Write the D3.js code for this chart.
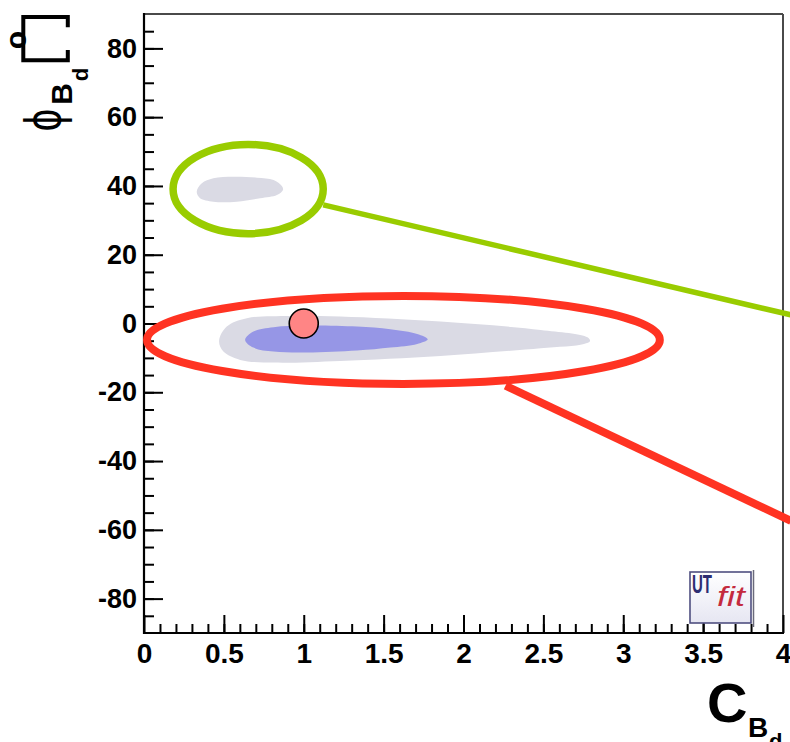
<!DOCTYPE html>
<html>
<head>
<meta charset="utf-8">
<script src="https://cdn.jsdelivr.net/npm/d3@7"></script>
<style>
  html, body { margin: 0; padding: 0; background: #ffffff; }
  svg { display: block; }
  text { font-family: "Liberation Sans", Arial, Helvetica, sans-serif; }
</style>
</head>
<body>
<svg id="chart" width="790" height="742"></svg>
<script>
// ---- data -------------------------------------------------------------
// axis ticks
const xTickValues = [0, 0.5, 1, 1.5, 2, 2.5, 3, 3.5, 4];
const xTickLabels = ["0", "0.5", "1", "1.5", "2", "2.5", "3", "3.5", "4"];
const yTickValues = [-80, -60, -40, -20, 0, 20, 40, 60, 80];
const yTickLabels = ["-80", "-60", "-40", "-20", "0", "20", "40", "60", "80"];

// 95% probability region, main solution (C, phi in degrees)
const region95Main = [
  [0.470, -5.06], [0.518, -0.90], [0.644, 1.54], [0.915, 2.21], [1.229, 2.01],
  [1.856, 0.55], [2.483, -1.86], [2.776, -3.98], [2.792, -5.06], [2.754, -5.93],
  [2.483, -7.18], [1.856, -9.42], [1.229, -10.87], [0.811, -11.37], [0.602, -10.58],
  [0.497, -8.17]
];
// 95% probability region, secondary solution
const region95Second = [
  [0.330, 38.34], [0.362, 40.78], [0.434, 42.24], [0.560, 42.70], [0.707, 42.41],
  [0.811, 41.74], [0.863, 40.00], [0.870, 38.84], [0.832, 37.38], [0.727, 36.42],
  [0.581, 35.44], [0.434, 35.44], [0.351, 36.42]
];
// 68% probability region
const region68 = [
  [0.633, -4.77], [0.685, -2.35], [0.811, -1.08], [1.020, -0.61], [1.334, -0.90],
  [1.542, -1.66], [1.710, -3.02], [1.776, -4.56], [1.710, -5.93], [1.542, -7.01],
  [1.334, -7.88], [1.020, -8.46], [0.811, -8.17], [0.685, -7.01]
];
// Standard Model point
const smPoint = [1, 0];

// highlight ellipses: [centerC, centerPhi, radiusC, radiusPhi]
const highlightGreen = [0.652, 39.1, 0.470, 12.97];
const highlightRed = [1.624, -4.77, 1.605, 12.8];
// pointer lines: [[C0, phi0], [C1, phi1]]
const pointerGreen = [[1.122, 34.5], [4.05, 2.5]];
const pointerRed = [[2.263, -18.1], [4.05, -57.4]];

// ---- layout ----------------------------------------------------------
const svg = d3.select("#chart");
const x = d3.scaleLinear().domain([0, 4]).range([144, 783]);
const y = d3.scaleLinear().domain([-90, 90]).range([633, 14]);

const line = d3.line()
  .x(d => x(d[0])).y(d => y(d[1]))
  .curve(d3.curveCatmullRomClosed.alpha(0.5));

// ---- probability regions -----------------------------------------------
svg.append("path").attr("d", line(region95Main)).attr("fill", "#dadae4");
svg.append("path").attr("d", line(region95Second)).attr("fill", "#dadae4");
svg.append("path").attr("d", line(region68)).attr("fill", "#9696e6");

// ---- frame --------------------------------------------------------------
svg.append("line").attr("x1", x(0)).attr("x2", x(4)).attr("y1", y(90)).attr("y2", y(90))
  .attr("stroke", "#4a4a4a").attr("stroke-width", 2);
svg.append("line").attr("x1", x(4)).attr("x2", x(4)).attr("y1", y(90)).attr("y2", y(-90))
  .attr("stroke", "#4a4a4a").attr("stroke-width", 2);

// ---- axes ---------------------------------------------------------------
function styleAxis(g) {
  g.select(".domain").remove();
  g.selectAll(".tick line").attr("stroke", "#000").attr("stroke-width", 2);
}

// y minor ticks every 5 degrees
svg.append("g").attr("transform", `translate(${x(0)},0)`)
  .call(d3.axisLeft(y).tickValues(d3.range(-85, 90, 5)).tickSize(-10).tickFormat(""))
  .call(styleAxis);
// y major ticks + labels
svg.append("g").attr("transform", `translate(${x(0)},0)`)
  .call(d3.axisLeft(y).tickValues(yTickValues).tickSize(-19).tickPadding(7)
    .tickFormat((d, i) => yTickLabels[i]))
  .call(styleAxis)
  .call(g => g.selectAll("text")
    .attr("fill", "#000").attr("font-size", 27).attr("font-weight", "bold")
    .attr("font-family", "Liberation Sans, Arial, sans-serif"));

// x minor ticks every 0.1
svg.append("g").attr("transform", `translate(0,${y(-90)})`)
  .call(d3.axisBottom(x).tickValues(d3.range(1, 40).map(i => i / 10)).tickSize(-9).tickFormat(""))
  .call(styleAxis);
// x major ticks + labels
svg.append("g").attr("transform", `translate(0,${y(-90)})`)
  .call(d3.axisBottom(x).tickValues(xTickValues).tickSize(-18).tickPadding(10)
    .tickFormat((d, i) => xTickLabels[i]))
  .call(styleAxis)
  .call(g => g.selectAll("text")
    .attr("fill", "#000").attr("font-size", 28).attr("font-weight", "bold")
    .attr("font-family", "Liberation Sans, Arial, sans-serif"));

// axis lines (left, bottom)
svg.append("line").attr("x1", x(0)).attr("x2", x(0)).attr("y1", y(90) - 1).attr("y2", y(-90) + 1)
  .attr("stroke", "#000").attr("stroke-width", 2.2);
svg.append("line").attr("x1", x(0) - 1).attr("x2", x(4) + 1).attr("y1", y(-90)).attr("y2", y(-90))
  .attr("stroke", "#000").attr("stroke-width", 2.2);

// ---- axis titles --------------------------------------------------------
// x title: C_{B_d}
const xt = svg.append("g").attr("fill", "#000").attr("font-weight", "bold");
xt.append("text").attr("x", 707).attr("y", 722).attr("font-size", 56).text("C");
xt.append("text").attr("x", 748).attr("y", 737).attr("font-size", 28).text("B");
xt.append("text").attr("x", 769).attr("y", 749).attr("font-size", 22).text("d");

// y title: phi_{B_d} [deg], rotated
const yt = svg.append("g").attr("fill", "#000");
yt.append("text").attr("transform", "translate(61,120) rotate(-90) scale(0.78,1)")
  .attr("text-anchor", "middle").attr("font-size", 51)
  .attr("font-family", "DejaVu Serif, serif").text("ϕ");
yt.append("text").attr("transform", "translate(72,94) rotate(-90)")
  .attr("text-anchor", "middle").attr("font-size", 30).attr("font-weight", "bold").text("B");
yt.append("text").attr("transform", "translate(88,74.5) rotate(-90)")
  .attr("text-anchor", "middle").attr("font-size", 22).attr("font-weight", "bold").text("d");
yt.append("text").attr("transform", "translate(25.5,40) rotate(-90)")
  .attr("text-anchor", "middle").attr("font-size", 30).attr("font-weight", "bold").text("o");
yt.append("path").attr("d", "M67.8,27.3 V17 H23.3 V60.3 H67.8 V50")
  .attr("fill", "none").attr("stroke", "#000").attr("stroke-width", 4);

// ---- Standard Model point ----------------------------------------------
svg.append("circle").attr("cx", x(smPoint[0])).attr("cy", y(smPoint[1])).attr("r", 14.5)
  .attr("fill", "#ff8585").attr("stroke", "#000").attr("stroke-width", 1.6);

// ---- logo ---------------------------------------------------------------
const defs = svg.append("defs");
const grad = defs.append("linearGradient").attr("id", "logoBg")
  .attr("x1", 0).attr("y1", 0).attr("x2", 0).attr("y2", 1);
grad.append("stop").attr("offset", "0%").attr("stop-color", "#ffffff");
grad.append("stop").attr("offset", "100%").attr("stop-color", "#e6e6f2");
const logo = svg.append("g");
logo.append("rect").attr("x", 690).attr("y", 572).attr("width", 61).attr("height", 51)
  .attr("fill", "url(#logoBg)").attr("stroke", "#4f4f80").attr("stroke-width", 1.6);
logo.append("line").attr("x1", 753.5).attr("x2", 753.5).attr("y1", 570).attr("y2", 627)
  .attr("stroke", "#6a6a7a").attr("stroke-width", 1.5);
logo.append("text").attr("x", 692).attr("y", 593).attr("font-size", 25).attr("font-weight", "bold")
  .attr("fill", "#2d2d72").attr("textLength", 20).attr("lengthAdjust", "spacingAndGlyphs").text("UT");
logo.append("text").attr("x", 717).attr("y", 606).attr("font-size", 27).attr("font-style", "italic")
  .attr("font-family", "Liberation Serif, Times New Roman, serif")
  .attr("fill", "#c42a3e").attr("textLength", 28).attr("lengthAdjust", "spacingAndGlyphs").text("fit");

// ---- highlight ellipses and pointers ------------------------------------
function ellipse(e, color, width) {
  svg.append("ellipse")
    .attr("cx", x(e[0])).attr("cy", y(e[1]))
    .attr("rx", x(e[0] + e[2]) - x(e[0])).attr("ry", y(e[1] - e[3]) - y(e[1]))
    .attr("fill", "none").attr("stroke", color).attr("stroke-width", width);
}
function pointer(p, color, width) {
  svg.append("line")
    .attr("x1", x(p[0][0])).attr("y1", y(p[0][1]))
    .attr("x2", x(p[1][0])).attr("y2", y(p[1][1]))
    .attr("stroke", color).attr("stroke-width", width);
}
pointer(pointerGreen, "#99cc00", 5.5);
ellipse(highlightGreen, "#99cc00", 7.5);
pointer(pointerRed, "#ff3322", 8);
ellipse(highlightRed, "#ff3322", 8);
</script>
</body>
</html>
